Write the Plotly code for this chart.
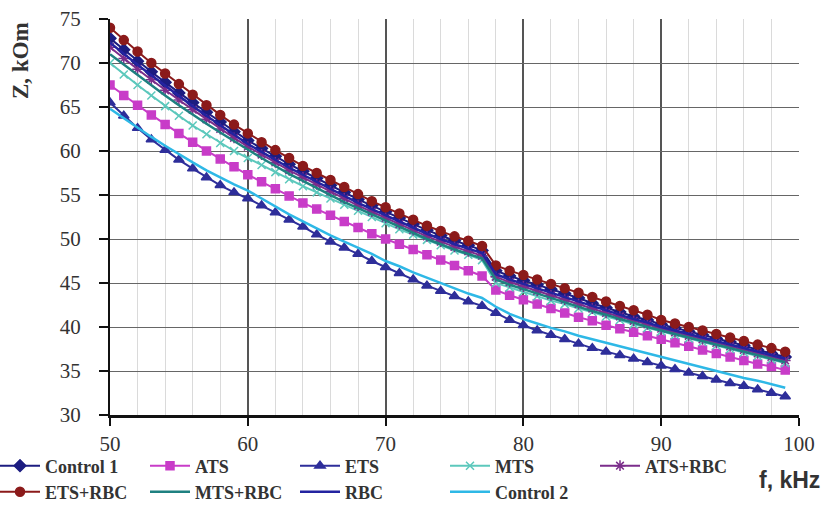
import plotly.graph_objects as go

freq = list(range(50, 100))

control1 = [72.8, 71.5, 70.2, 69.0, 67.8, 66.6, 65.5, 64.4, 63.3, 62.2,
            61.2, 60.3, 59.4, 58.5, 57.7, 56.9, 56.1, 55.3, 54.5, 53.8,
            53.1, 52.4, 51.7, 51.0, 50.4, 49.8, 49.3, 48.7, 46.4, 45.8,
            45.3, 44.8, 44.3, 43.8, 43.3, 42.7, 42.2, 41.7, 41.2, 40.8,
            40.3, 39.9, 39.5, 39.1, 38.7, 38.3, 37.9, 37.4, 37.0, 36.6]

ats = [67.5, 66.3, 65.2, 64.1, 63.0, 62.0, 61.0, 60.0, 59.1, 58.2,
       57.3, 56.5, 55.7, 54.9, 54.1, 53.4, 52.7, 52.0, 51.3, 50.6,
       50.0, 49.4, 48.8, 48.2, 47.6, 47.0, 46.4, 45.8, 44.2, 43.6,
       43.1, 42.6, 42.1, 41.6, 41.1, 40.7, 40.2, 39.8, 39.4, 39.0,
       38.6, 38.2, 37.8, 37.4, 37.0, 36.6, 36.2, 35.8, 35.5, 35.1]

ets = [65.5, 64.0, 62.6, 61.3, 60.1, 59.0, 58.0, 57.0, 56.1, 55.3,
       54.6, 53.8, 53.0, 52.2, 51.4, 50.5, 49.7, 49.0, 48.3, 47.5,
       46.8, 46.1, 45.4, 44.7, 44.1, 43.5, 42.9, 42.4, 41.6, 40.8,
       40.2, 39.6, 39.1, 38.6, 38.1, 37.6, 37.2, 36.8, 36.4, 36.0,
       35.6, 35.2, 34.8, 34.4, 34.0, 33.6, 33.3, 32.9, 32.5, 32.1]

mts = [70.0, 68.7, 67.5, 66.3, 65.1, 64.0, 62.9, 61.9, 60.9, 60.0,
       59.2, 58.4, 57.6, 56.8, 56.0, 55.3, 54.6, 53.9, 53.2, 52.5,
       51.8, 51.1, 50.5, 49.9, 49.3, 48.7, 48.2, 47.6, 45.0, 44.5,
       44.0, 43.5, 43.0, 42.6, 42.1, 41.7, 41.2, 40.8, 40.3, 39.9,
       39.5, 39.1, 38.7, 38.3, 37.9, 37.5, 37.1, 36.7, 36.3, 35.9]

ats_rbc = [71.8, 70.5, 69.3, 68.1, 66.9, 65.8, 64.7, 63.6, 62.5, 61.5,
           60.5, 59.6, 58.7, 57.8, 57.0, 56.2, 55.4, 54.6, 53.8, 53.1,
           52.4, 51.7, 51.0, 50.3, 49.7, 49.1, 48.6, 48.1, 45.7, 45.1,
           44.6, 44.1, 43.6, 43.1, 42.6, 42.1, 41.6, 41.2, 40.7, 40.3,
           39.8, 39.4, 39.0, 38.6, 38.2, 37.8, 37.4, 37.0, 36.6, 36.2]

ets_rbc = [74.0, 72.6, 71.3, 70.0, 68.8, 67.6, 66.4, 65.2, 64.1, 63.0,
           62.0, 61.0, 60.1, 59.2, 58.3, 57.5, 56.7, 55.9, 55.1, 54.3,
           53.6, 52.9, 52.2, 51.5, 50.9, 50.3, 49.8, 49.2, 47.0, 46.4,
           45.9, 45.4, 44.9, 44.4, 43.9, 43.4, 42.9, 42.4, 41.9, 41.4,
           40.8, 40.4, 40.0, 39.6, 39.2, 38.8, 38.4, 38.0, 37.6, 37.2]

mts_rbc = [71.0, 69.8, 68.6, 67.4, 66.3, 65.2, 64.1, 63.1, 62.1, 61.1,
           60.1, 59.2, 58.3, 57.4, 56.6, 55.8, 55.0, 54.2, 53.5, 52.8,
           52.1, 51.4, 50.7, 50.0, 49.4, 48.8, 48.3, 47.8, 45.4, 44.8,
           44.3, 43.8, 43.3, 42.8, 42.3, 41.8, 41.4, 40.9, 40.5, 40.0,
           39.6, 39.2, 38.8, 38.4, 38.0, 37.6, 37.2, 36.8, 36.4, 36.0]

rbc = [72.3, 71.0, 69.8, 68.6, 67.4, 66.2, 65.1, 64.0, 62.9, 61.8,
       60.8, 59.9, 59.0, 58.1, 57.3, 56.5, 55.7, 54.9, 54.1, 53.4,
       52.7, 52.0, 51.3, 50.6, 50.0, 49.4, 48.9, 48.4, 46.0, 45.4,
       44.9, 44.4, 43.9, 43.4, 42.9, 42.4, 41.9, 41.4, 40.9, 40.5,
       40.0, 39.6, 39.2, 38.8, 38.4, 38.0, 37.6, 37.2, 36.8, 36.4]

control2 = [64.8, 63.7, 62.6, 61.6, 60.6, 59.6, 58.7, 57.8, 57.0, 56.2,
            55.5, 54.6, 53.7, 52.8, 52.0, 51.2, 50.4, 49.7, 49.0, 48.3,
            47.5, 46.9, 46.2, 45.6, 45.0, 44.4, 43.8, 43.3, 42.3, 41.5,
            40.9, 40.4, 39.9, 39.5, 39.0, 38.6, 38.2, 37.8, 37.4, 37.0,
            36.6, 36.2, 35.8, 35.4, 35.0, 34.6, 34.2, 33.9, 33.5, 33.1]

x_ticks = [50, 60, 70, 80, 90, 100]
y_ticks = [30, 35, 40, 45, 50, 55, 60, 65, 70, 75]

series = [
    ("Control 1", control1, "#1C1C80", "diamond", 9, "legend"),
    ("ATS", ats, "#C83CC8", "square", 8, "legend"),
    ("ETS", ets, "#2E2E9A", "triangle-up", 9, "legend"),
    ("MTS", mts, "#5CC8BC", "x-thin-open", 8, "legend"),
    ("ATS+RBC", ats_rbc, "#7B2D8B", "asterisk-open", 9, "legend"),
    ("ETS+RBC", ets_rbc, "#8B1A1A", "circle", 9, "legend2"),
    ("MTS+RBC", mts_rbc, "#1E8080", None, 0, "legend2"),
    ("RBC", rbc, "#2323A0", None, 0, "legend2"),
    ("Control 2", control2, "#2EB8E6", None, 0, "legend2"),
]

fig = go.Figure()
for name, vals, color, sym, size, lg in series:
    if sym:
        mk = dict(symbol=sym, size=size, color=color,
                  line=dict(color=color, width=1.5))
        fig.add_trace(go.Scatter(x=freq, y=vals, name=name, mode="lines+markers",
                                 line=dict(color=color, width=2), marker=mk, legend=lg))
    else:
        fig.add_trace(go.Scatter(x=freq, y=vals, name=name, mode="lines",
                                 line=dict(color=color, width=2.5), legend=lg))

tickfont = dict(family="Liberation Serif", size=21, color="#333333")
legfont = dict(family="Liberation Serif", size=18, weight="bold", color="#333333")

def leg(ypx):
    return dict(orientation="h", xref="paper", yref="paper",
                x=(-5 - 110) / 689, y=(415 - ypx) / 396, xanchor="left", yanchor="middle",
                entrywidth=95, entrywidthmode="pixels", itemwidth=40,
                font=legfont, bgcolor="rgba(0,0,0,0)", tracegroupgap=0)

fig.update_layout(
    width=827, height=505,
    margin=dict(l=110, r=28, t=19, b=90, autoexpand=False),
    paper_bgcolor="white", plot_bgcolor="white",
    showlegend=True,
    legend=leg(466),
    legend2=leg(492),
    xaxis=dict(range=[50, 100], tickvals=x_ticks, ticktext=[str(v) for v in x_ticks],
               showline=True, linecolor="#111111", linewidth=2.5,
               ticks="outside", ticklen=8, tickwidth=2, tickcolor="#111111",
               showgrid=True, gridcolor="#555555", gridwidth=1.5,
               minor=dict(dtick=2, showgrid=True, gridcolor="#DADADA", gridwidth=1),
               ticklabelstandoff=0,
               tickfont=tickfont, zeroline=False),
    yaxis=dict(range=[30, 75], tickvals=y_ticks, ticktext=[str(v) for v in y_ticks],
               showline=True, linecolor="#111111", linewidth=2,
               ticks="outside", ticklen=9, tickwidth=1.5, tickcolor="#111111",
               showgrid=True, gridcolor="#666666", gridwidth=1.2,
               ticklabelstandoff=14,
               tickfont=tickfont, zeroline=False),
    annotations=[
        dict(text="Z, kOm", xref="paper", yref="paper", x=(21 - 110) / 689, y=(415 - 60) / 396,
             xanchor="center", yanchor="middle",
             showarrow=False, textangle=-90,
             font=dict(family="Liberation Serif", size=23, weight="bold", color="#333333")),
        dict(text="f, kHz", xref="paper", yref="paper", x=(822 - 110) / 689, y=(415 - 480) / 396,
             xanchor="right", yanchor="middle", showarrow=False,
             font=dict(family="Liberation Sans", size=23, weight="bold", color="#333333")),
    ],
)

fig.write_html("out.html", config={"displayModeBar": False},
               post_script="document.body.style.margin='0px';")
